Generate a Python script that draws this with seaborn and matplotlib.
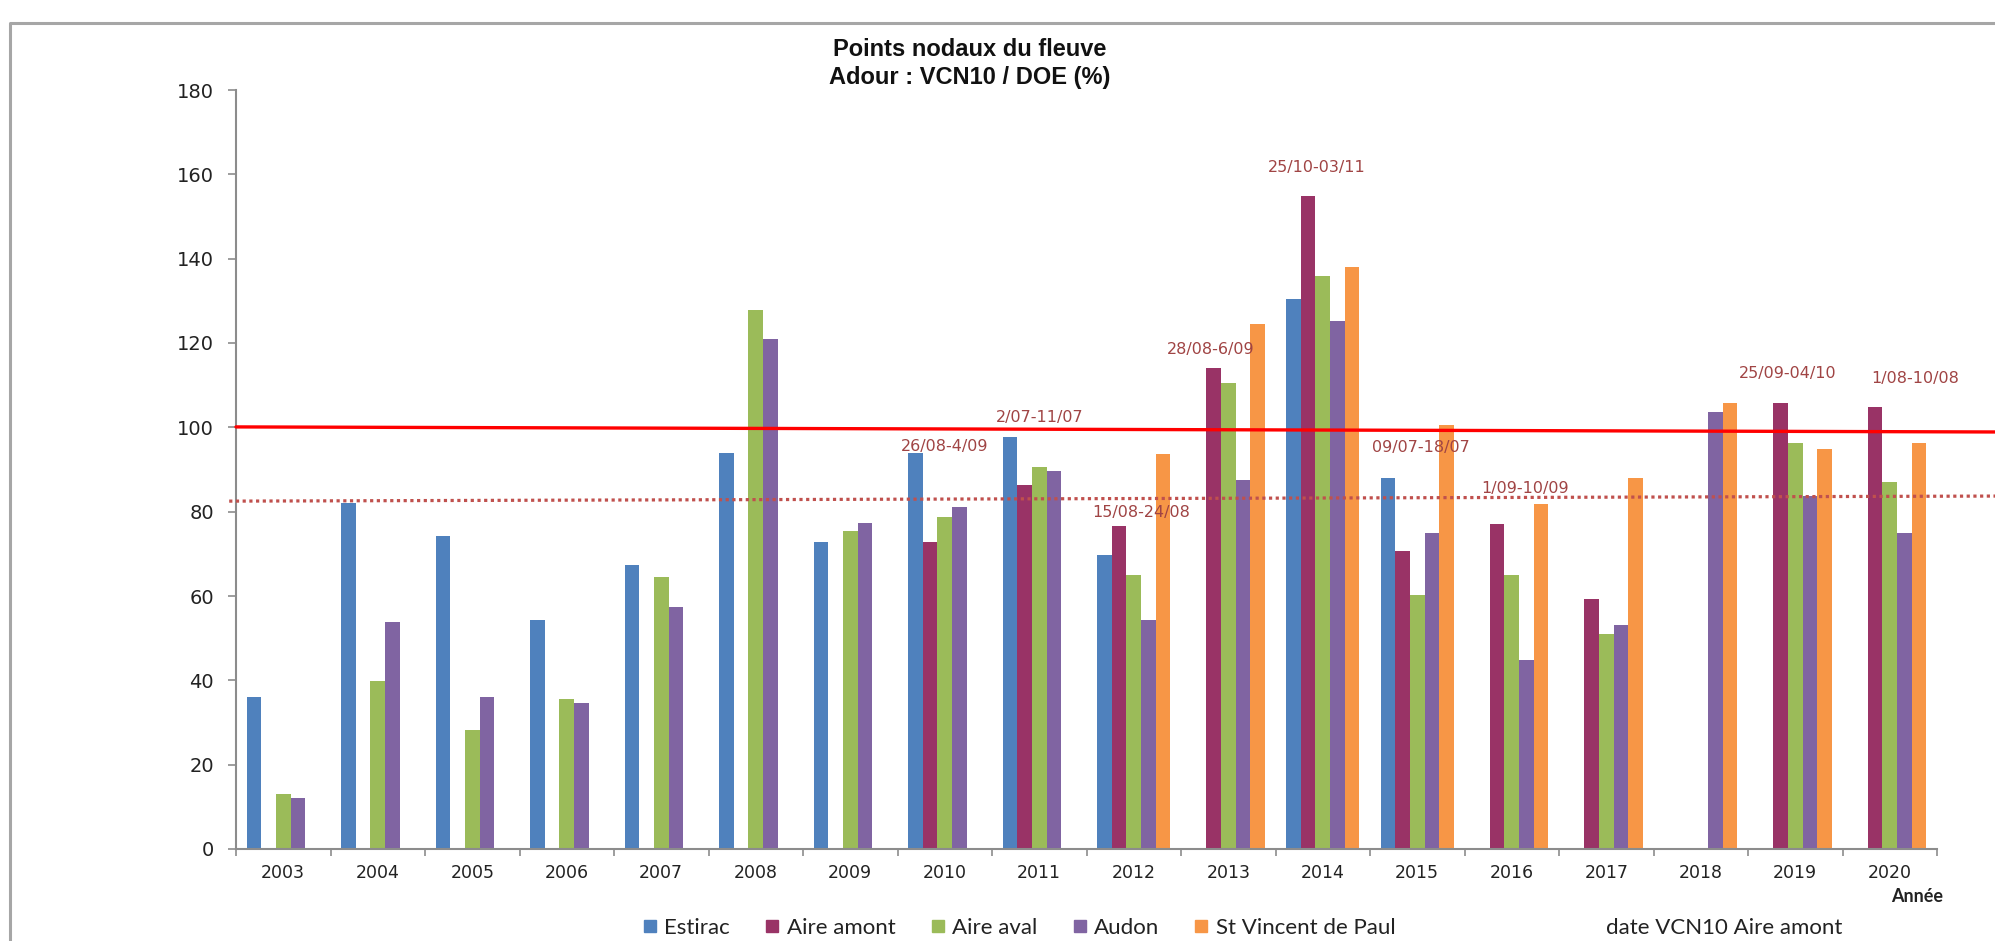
import numpy as np
import pandas as pd
import matplotlib
matplotlib.use("Agg")
import matplotlib.pyplot as plt
import matplotlib.transforms as mtransforms
from matplotlib.lines import Line2D
import seaborn as sns

# ---------------- data ----------------
years = [str(y) for y in range(2003, 2021)]
nan = np.nan
estirac    = [36.0, 82.1, 74.2, 54.2, 67.3, 94.0, 72.8, 94.0, 97.6, 69.8, nan, 130.5, 88.0, nan, nan, nan, nan, nan]
aire_amont = [nan, nan, nan, nan, nan, nan, nan, 72.8, 86.4, 76.7, 114.0, 154.9, 70.6, 77.1, 59.2, nan, 105.7, 104.9]
aire_aval  = [13.0, 39.9, 28.2, 35.5, 64.6, 127.9, 75.4, 78.8, 90.7, 65.0, 110.6, 135.8, 60.2, 65.0, 51.0, nan, 96.2, 87.1]
audon      = [12.0, 53.8, 36.0, 34.7, 57.3, 121.0, 77.2, 81.1, 89.7, 54.2, 87.5, 125.3, 75.0, 44.9, 53.1, 103.6, 83.6, 74.9]
st_vincent = [nan, nan, nan, nan, nan, nan, nan, nan, nan, 93.6, 124.5, 138.1, 100.6, 81.9, 88.1, 105.7, 94.9, 96.2]
series_names = ["Estirac", "Aire amont", "Aire aval", "Audon", "St Vincent de Paul"]

# VCN10 date labels (Aire amont)
label_years = ["2010", "2011", "2012", "2013", "2014", "2015", "2016", "2019", "2020"]
label_texts = ["26/08-4/09", "2/07-11/07", "15/08-24/08", "28/08-6/09", "25/10-03/11",
               "09/07-18/07", "1/09-10/09", "25/09-04/10", "1/08-10/08"]
label_heights = [95.4, 102.4, 79.7, 118.4, 161.6, 95.1, 85.4, 112.7, 111.5]

# reference lines (DOE = 100 %, dotted threshold), values at left and right ends
doe_line = [100.1, 98.9]
dotted_line = [82.5, 83.7]

yticks = [0, 20, 40, 60, 80, 100, 120, 140, 160, 180]

# ---------------- styling ----------------
colors = ["#4F81BD", "#993366", "#9BBB59", "#8064A2", "#F79646"]
label_dx = [0.0, 0.0, 0.08, -0.19, -0.06, 0.04, 0.14, -0.08, 0.27]
label_color = "#A04444"

sns.set_style("white")
plt.rcParams["font.family"] = ["DejaVu Sans"]

W, H = 1995, 941
fig = plt.figure(figsize=(W / 100, H / 100), dpi=100)
ax_left, ax_right, ax_bottom, ax_top = 236, 1937, 849, 90
ax = fig.add_axes([ax_left / W, 1 - ax_bottom / H, (ax_right - ax_left) / W, (ax_bottom - ax_top) / H])

series_values = [estirac, aire_amont, aire_aval, audon, st_vincent]
rows = []
for name, vals in zip(series_names, series_values):
    for yr, v in zip(years, vals):
        if not np.isnan(v):
            rows.append({"Année": yr, "Série": name, "Valeur": v})
df = pd.DataFrame(rows)

sns.barplot(data=df, x="Année", y="Valeur", hue="Série", order=years, hue_order=series_names,
            palette=colors, width=0.772, errorbar=None, saturation=1, linewidth=0,
            legend=False, ax=ax)

ax.set_xlim(-0.5, len(years) - 0.5)
ax.set_ylim(0, 180)
ax.set_yticks(yticks)
ax.set_xlabel("")
ax.set_ylabel("")

for s in ["top", "right"]:
    ax.spines[s].set_visible(False)
for s in ["left", "bottom"]:
    ax.spines[s].set_color("#8C8C8C")
    ax.spines[s].set_linewidth(1.5)

ax.tick_params(axis="y", which="major", left=True, length=6, width=1.2, color="#8C8C8C",
               labelsize=14, labelcolor="#222222", pad=10)
ax.tick_params(axis="x", which="major", bottom=False, length=0, labelsize=12.5,
               labelcolor="#222222", pad=11)
ax.set_xticks(np.arange(-0.5, len(years), 1.0), minor=True)
ax.tick_params(axis="x", which="minor", bottom=True, length=5, width=1.2, color="#8C8C8C")

# reference lines extending beyond the plot to the right image edge
trans = mtransforms.blended_transform_factory(ax.transAxes, ax.transData)
x_end = (W - ax_left) / (ax_right - ax_left)
ax.plot([-0.004, x_end], dotted_line, transform=trans, clip_on=False,
        color="#C0504D", lw=2.3, linestyle=(0, (1.0, 1.1)), zorder=4)
ax.plot([0, x_end], doe_line, transform=trans, clip_on=False,
        color="#FF0000", lw=2.4, zorder=5)

# date labels
for yr, txt, h, dx in zip(label_years, label_texts, label_heights, label_dx):
    ax.text(years.index(yr) + dx, h, txt, ha="center", va="center",
            fontsize=11.5, color=label_color, zorder=6)

# title
fig.text(970 / W, 1 - 63.5 / H, "Points nodaux du fleuve\nAdour : VCN10 / DOE (%)",
         ha="center", va="center", fontsize=17, fontweight="bold", linespacing=1.3,
         family=["Liberation Sans Narrow", "Liberation Sans", "DejaVu Sans"], color="#111111")

# legend
handles = [Line2D([0], [0], marker="s", linestyle="none", markersize=8.5,
                  markerfacecolor=c, markeredgecolor=c) for c in colors]
leg = fig.legend(handles, series_names, loc="center left", ncol=5,
                 bbox_to_anchor=(642 / W, 1 - 928 / H), frameon=False,
                 handlelength=0.7, handletextpad=0.3, columnspacing=1.55,
                 borderpad=0, borderaxespad=0, prop={"family": "Lato", "size": 16})
for t in leg.get_texts():
    t.set_color("#222222")
fig.text(1606 / W, 1 - 928 / H, "date VCN10 Aire amont", ha="left", va="center",
         fontsize=16, family="Lato", color="#222222")

fig.text(1917 / W, 1 - 897 / H, "Année", ha="center", va="center",
         fontsize=13, fontweight="bold", family="Lato", color="#222222")

# outer frame (top and left borders of the chart area)
fig.add_artist(Line2D([10 / W, 10 / W, 1.0], [0.0, 1 - 23 / H, 1 - 23 / H],
                      transform=fig.transFigure, color="#A6A6A6", lw=2.2))

fig.savefig("out.png", dpi=100)
